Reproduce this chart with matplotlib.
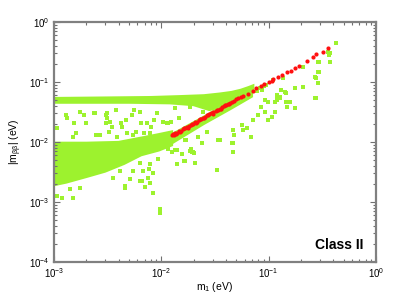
import numpy as np
import matplotlib
matplotlib.use("Agg")
from matplotlib import pyplot as plt
from matplotlib.ticker import LogLocator, NullFormatter

plt.rcParams['font.family'] = ['Liberation Sans', 'DejaVu Sans']
plt.rcParams['mathtext.fontset'] = 'custom'
plt.rcParams['mathtext.rm'] = 'Liberation Sans'
plt.rcParams['mathtext.it'] = 'Liberation Sans:italic'
plt.rcParams['mathtext.default'] = 'regular'

GREEN = '#9df22e'
RED = '#ff1010'

# dense green regions, outlines (m1, |m_bb|) in eV
upper_top_m1 = [0.001, 0.003, 0.008, 0.015, 0.025, 0.035, 0.045, 0.055, 0.065, 0.072]
upper_top_mbb = [0.054, 0.055, 0.056, 0.058, 0.060, 0.064, 0.068, 0.074, 0.082, 0.088]
upper_bot_m1 = [0.072, 0.060, 0.045, 0.035, 0.028, 0.020, 0.012, 0.005, 0.001]
upper_bot_mbb = [0.070, 0.058, 0.046, 0.037, 0.034, 0.041, 0.044, 0.045, 0.045]

lower_top_m1 = [0.001, 0.002, 0.004, 0.0065, 0.0095, 0.0126]
lower_top_mbb = [0.0097, 0.0097, 0.0100, 0.0118, 0.0135, 0.0150]
lower_bot_m1 = [0.0126, 0.0095, 0.0065, 0.0045, 0.003, 0.002, 0.0013, 0.001]
lower_bot_mbb = [0.0088, 0.0072, 0.0060, 0.0043, 0.0032, 0.0026, 0.0021, 0.0019]

diag_top_m1 = [0.0126, 0.070]
diag_top_mbb = [0.0135, 0.073]
diag_bot_m1 = [0.070, 0.045, 0.025, 0.0126]
diag_bot_mbb = [0.057, 0.036, 0.020, 0.0095]

# sparse green points
gap_m1 = [0.00107, 0.00129, 0.00154, 0.00160, 0.00190, 0.00199, 0.00236, 0.00246,
          0.00305, 0.00305, 0.00312, 0.00326, 0.00347, 0.00378, 0.00421, 0.00430,
          0.00469, 0.00479, 0.00557, 0.00581, 0.00647, 0.00690, 0.00802, 0.00855,
          0.00993, 0.0113, 0.0123, 0.0146, 0.00132, 0.00175, 0.00241, 0.00312,
          0.00333, 0.00533, 0.00634, 0.00736, 0.00912, 0.0104, 0.00150, 0.00268,
          0.00387, 0.00545, 0.00785, 0.0134, 0.0185, 0.0244, 0.0116]
gap_mbb = [0.0171, 0.0282, 0.0207, 0.0141, 0.0282, 0.0207, 0.0304, 0.0131,
           0.0282, 0.0207, 0.0251, 0.0147, 0.0178, 0.0341, 0.0207, 0.0178,
           0.0233, 0.0141, 0.0341, 0.0147, 0.0207, 0.0141, 0.0178, 0.0233,
           0.0121, 0.0207, 0.0215, 0.0251, 0.0251, 0.0316, 0.0304, 0.0304,
           0.0215, 0.0282, 0.0316, 0.0207, 0.0304, 0.0215, 0.0121, 0.0131,
           0.0121, 0.0131, 0.0141, 0.0369, 0.0383, 0.0316, 0.0207]

low_m1 = [0.00107, 0.00119, 0.00150, 0.00141, 0.00175, 0.00355, 0.00412, 0.00459,
          0.00459, 0.00511, 0.00634, 0.00752, 0.00785, 0.00837, 0.00973, 0.00973,
          0.00545, 0.00676, 0.00933, 0.0116, 0.0140, 0.0166, 0.0185, 0.0206,
          0.0189, 0.0467, 0.0331, 0.0134, 0.0193, 0.0171, 0.0162, 0.0200, 0.0157,
          0.0125, 0.00634, 0.00660, 0.00785, 0.00700, 0.00760, 0.00837, 0.0350]
low_mbb = [0.00126, 0.00117, 0.00117, 0.00165, 0.00171, 0.00251, 0.00329, 0.00171,
           0.00181, 0.00242, 0.00224, 0.00251, 0.00207, 0.00141, 0.000764, 0.000656,
           0.00329, 0.00329, 0.00521, 0.00764, 0.00430, 0.00483, 0.00708, 0.00447,
           0.00764, 0.00681, 0.00341, 0.00736, 0.00681, 0.0108, 0.00483, 0.00660, 0.00620,
           0.00690, 0.00445, 0.00224, 0.00431, 0.00180, 0.00350, 0.00300, 0.0108]

diag_m1 = [0.0166, 0.0220, 0.0239, 0.0267, 0.0338, 0.0456, 0.0466, 0.0565,
           0.0633, 0.0716, 0.0797, 0.0925, 0.0991, 0.120, 0.108, 0.0140,
           0.0197, 0.0851, 0.0929, 0.120, 0.0991, 0.0578, 0.0687, 0.0466,
           0.0338, 0.0480]
diag_mbb = [0.0108, 0.0121, 0.0096, 0.0147, 0.0108, 0.0096, 0.0158, 0.0192,
            0.0171, 0.0233, 0.0282, 0.0316, 0.0464, 0.0541, 0.0261, 0.00736,
            0.00681, 0.0383, 0.0501, 0.0501, 0.0233, 0.0158, 0.0121, 0.0096,
            0.0108, 0.0130]

top_m1 = [0.426, 0.374, 0.366, 0.374, 0.295, 0.295, 0.271, 0.289, 0.210, 0.177,
          0.142, 0.146, 0.120, 0.128, 0.115, 0.158, 0.115, 0.148, 0.177, 0.277,
          0.110, 0.136, 0.210, 0.271, 0.146, 0.128, 0.131, 0.210, 0.277, 0.289,
          0.358, 0.289, 0.0830, 0.0900, 0.0780, 0.0950, 0.0870]
top_mbb = [0.447, 0.304, 0.282, 0.215, 0.215, 0.147, 0.121, 0.0962, 0.0826, 0.0794,
           0.0681, 0.0656, 0.0608, 0.0541, 0.0464, 0.0464, 0.0316, 0.0383, 0.0369, 0.0541,
           0.108, 0.117, 0.178, 0.0541, 0.0464, 0.0562, 0.0736, 0.0826, 0.117, 0.147,
           0.316, 0.215, 0.0800, 0.0850, 0.0700, 0.0880, 0.0740]

# red points (m_bb close to m1)
red_m1 = [0.0126, 0.0130, 0.0135, 0.0140, 0.0146, 0.0152, 0.0158, 0.0165, 0.0172,
          0.0180, 0.0188, 0.0196, 0.0205, 0.0214, 0.0224, 0.0234, 0.0245, 0.0256,
          0.0268, 0.0280, 0.0293, 0.0306, 0.0320, 0.0335, 0.0350, 0.0366, 0.0383,
          0.0400, 0.0418, 0.0437, 0.0457, 0.0478, 0.0500, 0.0523, 0.0547,
          0.0128, 0.0138, 0.0150, 0.0162, 0.0176, 0.0192, 0.0210, 0.0230, 0.0250,
          0.0275, 0.0300, 0.0330, 0.0360, 0.0395, 0.0430,
          0.0578, 0.0643, 0.0716, 0.0763, 0.0849, 0.0907, 0.101, 0.108, 0.110,
          0.122, 0.133, 0.148, 0.162, 0.176, 0.192, 0.228, 0.260, 0.277, 0.321, 0.358]
red_mbb = [0.0131, 0.0128, 0.0140, 0.0142, 0.0150, 0.0155, 0.0163, 0.0168, 0.0178,
           0.0184, 0.0194, 0.0200, 0.0212, 0.0219, 0.0232, 0.0240, 0.0252, 0.0262,
           0.0276, 0.0287, 0.0302, 0.0313, 0.0330, 0.0343, 0.0360, 0.0375, 0.0394,
           0.0410, 0.0430, 0.0448, 0.0470, 0.0490, 0.0514, 0.0537, 0.0562,
           0.0136, 0.0134, 0.0147, 0.0170, 0.0172, 0.0198, 0.0206, 0.0238, 0.0246,
           0.0283, 0.0296, 0.0340, 0.0354, 0.0405, 0.0424,
           0.0584, 0.0631, 0.0708, 0.0794, 0.0858, 0.0926, 0.100, 0.104, 0.112,
           0.121, 0.131, 0.147, 0.153, 0.171, 0.185, 0.224, 0.261, 0.293, 0.316, 0.369]

fig = plt.figure(figsize=(4.15, 2.96), dpi=100)
ax = fig.add_axes([0.130, 0.115, 0.776, 0.811])
ax.set_xscale('log')
ax.set_yscale('log')

for tm, tb, bm, bb in [(upper_top_m1, upper_top_mbb, upper_bot_m1, upper_bot_mbb),
                       (lower_top_m1, lower_top_mbb, lower_bot_m1, lower_bot_mbb),
                       (diag_top_m1, diag_top_mbb, diag_bot_m1, diag_bot_mbb)]:
    ax.fill(list(tm) + list(bm), list(tb) + list(bb), color=GREEN, lw=1.5, ec=GREEN, zorder=1)

for xs, ys in [(gap_m1, gap_mbb), (low_m1, low_mbb), (diag_m1, diag_mbb), (top_m1, top_mbb)]:
    ax.scatter(xs, ys, s=7, marker='s', c=GREEN, lw=0, zorder=2)

ax.scatter(red_m1, red_mbb, s=9, marker='o', c=RED, lw=0, zorder=3)

ax.set_xlim(1e-3, 1)
ax.set_ylim(1e-4, 1)
ax.xaxis.set_major_locator(LogLocator(base=10, numticks=10))
ax.yaxis.set_major_locator(LogLocator(base=10, numticks=10))
ax.xaxis.set_minor_locator(LogLocator(base=10, subs=np.arange(2, 10), numticks=10))
ax.yaxis.set_minor_locator(LogLocator(base=10, subs=np.arange(2, 10), numticks=10))
ax.xaxis.set_minor_formatter(NullFormatter())
ax.yaxis.set_minor_formatter(NullFormatter())
ax.tick_params(which='both', direction='in', top=True, right=True, color='#707070',
               labelsize=7, width=0.8)
ax.tick_params(which='major', length=4, pad=3)
ax.tick_params(which='minor', length=2)
for sp in ax.spines.values():
    sp.set_color('#808080')
    sp.set_linewidth(1.6)

ax.set_xlabel('m$_1$ (eV)', fontsize=7.5, labelpad=0)
ax.set_ylabel(r'|m$_{\beta\beta}$| (eV)', fontsize=7.5, labelpad=4)
ax.text(0.96, 0.054, 'Class II', transform=ax.transAxes, ha='right', va='baseline',
        fontsize=10, fontweight='bold')

fig.savefig('out.png', dpi=100)
